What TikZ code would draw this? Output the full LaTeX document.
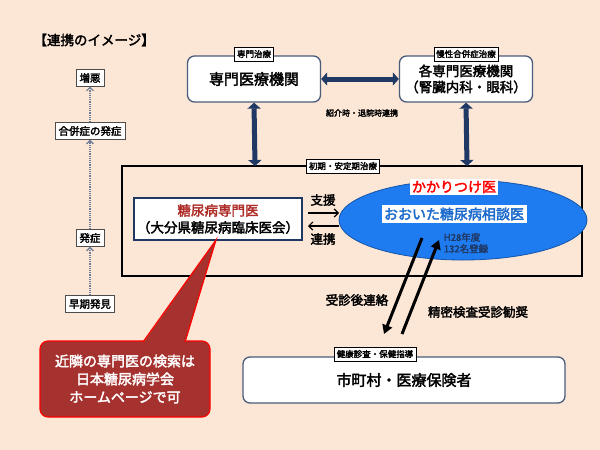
\documentclass[tikz,border=0pt]{standalone}
\usepackage{fontspec}
\setmainfont{Noto Sans CJK JP}[AutoFakeBold=2.5]
\usetikzlibrary{arrows.meta,shapes.geometric}
\definecolor{bg}{HTML}{FCE6D6}
\definecolor{navy}{HTML}{1F3864}
\definecolor{frame}{HTML}{4A5C7A}
\definecolor{ellb}{HTML}{1E7BF0}
\definecolor{dred}{HTML}{A5322E}
\tikzset{
 tag/.style={draw=black,fill=white,font=\bfseries\fontsize{8.5}{9}\selectfont,inner sep=2.5pt,minimum height=14pt},
 rbox/.style={draw=frame,line width=1.3pt,rounded corners=7pt,fill=white,align=center,font=\bfseries\fontsize{15}{17}\selectfont},
 lbox/.style={draw=black!70,fill=white,font=\bfseries\fontsize{10.5}{12}\selectfont,inner sep=3.5pt},
 dotarr/.style={densely dotted,draw=frame!80,line width=1.2pt,-{Straight Barb[length=3.5pt]}},
 dbl/.style={navy,line width=5pt,{Triangle[length=6pt,width=13pt]}-{Triangle[length=6pt,width=13pt]}},
 blk/.style={line width=3pt,-{Triangle[length=9pt,width=10pt]}},
 lab/.style={font=\bfseries\fontsize{12.5}{14}\selectfont},
}
\begin{document}
\begin{tikzpicture}[x=1pt,y=-1pt]
\fill[bg] (0,0) rectangle (600,450);
\useasboundingbox (0,0) rectangle (600,450);
\node[font=\bfseries\fontsize{13.5}{15}\selectfont,anchor=west] (title) at (30,40) {【連携のイメージ】};
% left column
\node[lbox] (zo) at (90,78) {増悪};
\node[lbox] (gp) at (90,131) {合併症の発症};
\node[lbox] (hs) at (90,238) {発症};
\node[lbox] (sk) at (90,304) {早期発見};
\draw[dotarr] (sk) -- (hs);
\draw[dotarr] (hs) -- (gp);
\draw[dotarr] (gp) -- (zo);
% top boxes
\node[rbox,minimum width=133pt,minimum height=46pt] (sm) at (254,79) {専門医療機関};
\node[rbox,minimum width=133pt,minimum height=46pt,font=\bfseries\fontsize{13.5}{16}\selectfont] (kk) at (466,79) {各専門医療機関\\（腎臓内科・眼科）};
\node[tag] (smt) at (254,54) {専門治療};
\node[tag] (kkt) at (466,54) {慢性合併症治療};
\draw[dbl] (sm.east) -- (kk.west);
\node[font=\bfseries\fontsize{8}{9}\selectfont] (sh) at (362,113) {紹介時・退院時連携};
% big frame
\draw[line width=1.3pt,fill=bg] (122,166) rectangle (582,276);
\coordinate (fa) at (255,166);
\coordinate (fb) at (467,166);
\draw[dbl] (sm.south) -- (fa);
\draw[dbl] (kk.south) -- (fb);
\node[tag] (st) at (343,166) {初期・安定期治療};
% left specialist
\node[draw=navy,line width=2.5pt,fill=white,minimum width=168pt,minimum height=42pt,inner sep=1pt,align=center,font=\bfseries\fontsize{13.5}{17}\selectfont] (ts) at (218,219) {\textcolor{dred!90!red}{糖尿病専門医}\\（大分県糖尿病臨床医会）};
\node[lab] (sien) at (323,200) {支援};
\node[lab] (renk) at (323,239) {連携};
\coordinate (a1) at (308,213); \coordinate (a2) at (339,213);
\coordinate (b1) at (339,226); \coordinate (b2) at (308,226);
\draw[line width=1.2pt,-{Straight Barb[length=4pt]}] (a1) -- (a2);
\draw[line width=1.2pt,-{Straight Barb[length=4pt]}] (b1) -- (b2);
% ellipse
\node[ellipse,fill=ellb,draw=ellb!70!black,line width=0.8pt,minimum width=248pt,minimum height=80pt] (el) at (463,220) {};
\node[fill=white,text=red,font=\bfseries\fontsize{14}{16}\selectfont,inner sep=2pt] (kt) at (454,187) {かかりつけ医};
\node[fill=white,text=ellb!85!black,font=\bfseries\fontsize{14}{16}\selectfont,inner sep=2.5pt] (od) at (454,214) {おおいた糖尿病相談医};
\node[text=navy,font=\bfseries\fontsize{9.5}{11.5}\selectfont,align=left] (h28) at (466,243) {H28年度\\132名登録};
% bottom
\node[rbox,minimum width=322pt,minimum height=46pt] (mc) at (404,380) {市町村・医療保険者};
\node[tag] (kt2) at (375,354) {健康診査・保健指導};
\coordinate (d1) at (422,238); \coordinate (d2) at (384,334);
\coordinate (u1) at (402,334); \coordinate (u2) at (439,240);
\draw[blk] (d1) -- (d2);
\draw[blk] (u1) -- (u2);
\node[lab] (jg) at (357,300) {受診後連絡};
\node[lab] (sm2) at (478,312) {精密検査受診勧奨};
% callout
\node[fill=dred,draw=red,line width=1.2pt,rounded corners=8pt,minimum width=170pt,minimum height=76pt,text=white,align=center,font=\bfseries\fontsize{14}{18}\selectfont] (co) at (125,379) {近隣の専門医の検索は\\日本糖尿病学会\\ホームページで可};
\coordinate (tip) at (216,240);
\fill[dred] (143,343) -- (tip) -- (185,343) -- cycle;
\draw[red,line width=1.2pt] (143,342) -- (tip) -- (185,342);
\end{tikzpicture}
\end{document}
